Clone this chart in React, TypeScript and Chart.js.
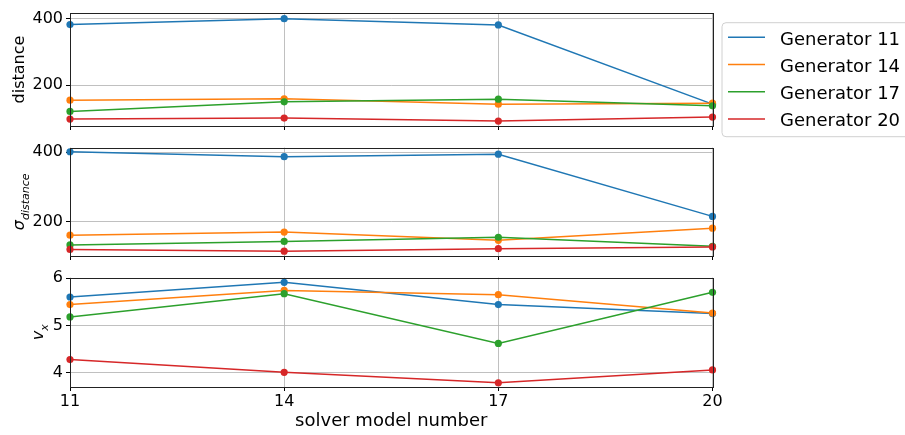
import React, { useEffect, useRef } from 'react';
import { Chart, registerables } from 'chart.js';

Chart.register(...registerables);

// ---------- data ----------
const categories = ['11', '14', '17', '20'];
const seriesNames = ['Generator 11', 'Generator 14', 'Generator 17', 'Generator 20'];

const distanceG11 = [383, 401, 382, 143];
const distanceG14 = [155, 159, 143, 146];
const distanceG17 = [121, 150, 158, 138];
const distanceG20 = [98, 101, 92, 104];

const sigmaG11 = [401, 387, 394, 215];
const sigmaG14 = [161, 170, 146, 181];
const sigmaG17 = [133, 143, 155, 129];
const sigmaG20 = [120, 115, 122, 127];

const vxG11 = [5.6, 5.91, 5.44, 5.25];
const vxG14 = [5.44, 5.74, 5.65, 5.26];
const vxG17 = [5.18, 5.67, 4.62, 5.7];
const vxG20 = [4.28, 4.01, 3.79, 4.06];

const distanceTicks = [200, 400];
const sigmaTicks = [200, 400];
const vxTicks = [4, 5, 6];

const xTitle = 'solver model number';

// ---------- style ----------
const colors = ['#1f77b4', '#ff7f0e', '#2ca02c', '#d62728'];
const FONT = '"DejaVu Sans", "Liberation Sans", sans-serif';
const GRID = '#b0b0b0';

type Panel = {
  top: number;
  height: number;
  padTop: number;
  xAxisH: number;
  min: number;
  max: number;
  ticks: number[];
  series: number[][];
  showX: boolean;
  title: 'distance' | 'sigma' | 'vx';
  legend: boolean;
};

const panels: Panel[] = [
  { top: 0, height: 140, padTop: 13, xAxisH: 14, min: 77, max: 418, ticks: distanceTicks,
    series: [distanceG11, distanceG14, distanceG17, distanceG20], showX: false, title: 'distance', legend: true },
  { top: 135, height: 135, padTop: 10, xAxisH: 14, min: 101, max: 413, ticks: sigmaTicks,
    series: [sigmaG11, sigmaG14, sigmaG17, sigmaG20], showX: false, title: 'sigma', legend: false },
  { top: 265, height: 170, padTop: 10, xAxisH: 48, min: 3.7, max: 6.01, ticks: vxTicks,
    series: [vxG11, vxG14, vxG17, vxG20], showX: true, title: 'vx', legend: false },
];

const framePlugin = {
  id: 'frame',
  afterDatasetsDraw(chart: any) {
    const { ctx, chartArea: a } = chart;
    ctx.save();
    ctx.strokeStyle = '#222';
    ctx.lineWidth = 1;
    ctx.strokeRect(Math.round(a.left) + 0.5, Math.round(a.top) + 0.5, Math.round(a.right - a.left), Math.round(a.bottom - a.top));
    ctx.restore();
  },
};

function mathTitlePlugin(kind: 'sigma' | 'vx') {
  return {
    id: 'mathTitle',
    afterDraw(chart: any) {
      const { ctx, chartArea: a } = chart;
      const main = kind === 'sigma' ? 'σ' : 'v';
      const sub = kind === 'sigma' ? 'distance' : 'x';
      const baseX = kind === 'sigma' ? 23.5 : 43;
      const shift = kind === 'sigma' ? 5.5 : 5;
      const cy = (a.top + a.bottom) / 2;
      ctx.save();
      ctx.fillStyle = '#000';
      ctx.textBaseline = 'alphabetic';
      ctx.textAlign = 'left';
      ctx.font = `italic 16px ${FONT}`;
      const wMain = ctx.measureText(main).width;
      ctx.font = `italic 11px ${FONT}`;
      const wSub = ctx.measureText(sub).width;
      const total = wMain + wSub;
      ctx.translate(baseX, cy);
      ctx.rotate(-Math.PI / 2);
      ctx.font = `italic 16px ${FONT}`;
      ctx.fillText(main, -total / 2, 0);
      ctx.font = `italic 11px ${FONT}`;
      ctx.fillText(sub, -total / 2 + wMain, shift);
      ctx.restore();
    },
  };
}

const legendPlugin = {
  id: 'customLegend',
  afterDraw(chart: any) {
    const { ctx } = chart;
    ctx.save();
    const x = 722, y = 22.7, w = 200, h = 114, r = 4;
    ctx.beginPath();
    ctx.moveTo(x + r, y);
    ctx.lineTo(x + w, y);
    ctx.lineTo(x + w, y + h);
    ctx.lineTo(x + r, y + h);
    ctx.arcTo(x, y + h, x, y + h - r, r);
    ctx.lineTo(x, y + r);
    ctx.arcTo(x, y, x + r, y, r);
    ctx.closePath();
    ctx.fillStyle = 'rgba(255,255,255,0.8)';
    ctx.fill();
    ctx.strokeStyle = '#d0d0d0';
    ctx.lineWidth = 1;
    ctx.stroke();
    const lineYs = [37.3, 64.5, 91.7, 119];
    seriesNames.forEach((name, i) => {
      ctx.strokeStyle = colors[i];
      ctx.lineWidth = 1.5;
      ctx.beginPath();
      ctx.moveTo(728, lineYs[i]);
      ctx.lineTo(765, lineYs[i]);
      ctx.stroke();
      ctx.fillStyle = '#000';
      ctx.font = `18px ${FONT}`;
      ctx.textBaseline = 'alphabetic';
      ctx.textAlign = 'left';
      ctx.fillText(name, 780, lineYs[i] + 7.3);
    });
    ctx.restore();
  },
};

function buildConfig(p: Panel): any {
  const plugins: any[] = [framePlugin];
  if (p.title !== 'distance') plugins.push(mathTitlePlugin(p.title));
  if (p.legend) plugins.push(legendPlugin);
  return {
    type: 'line',
    data: {
      labels: categories,
      datasets: p.series.map((d, i) => ({
        label: seriesNames[i],
        data: d,
        borderColor: colors[i],
        backgroundColor: colors[i],
        pointBackgroundColor: colors[i],
        pointBorderColor: colors[i],
        pointBorderWidth: 0,
        pointRadius: 3.6,
        borderWidth: 1.5,
        tension: 0,
        fill: false,
        clip: false,
        order: 3 - i,
      })),
    },
    options: {
      animation: false,
      responsive: false,
      maintainAspectRatio: false,
      devicePixelRatio: 1,
      events: [],
      layout: { padding: { top: p.padTop, left: 0, right: 192.5, bottom: 0 } },
      plugins: { legend: { display: false }, tooltip: { enabled: false } },
      scales: {
        x: {
          type: 'category',
          offset: false,
          border: { display: false },
          grid: { color: GRID, lineWidth: 0.8, drawTicks: true, tickLength: 4, tickColor: '#000', tickWidth: 1 },
          ticks: { display: p.showX, color: '#000', font: { family: FONT, size: 16 }, padding: 1, maxRotation: 0, autoSkip: false },
          title: p.showX
            ? { display: true, text: xTitle, color: '#000', font: { family: FONT, size: 18 }, padding: { top: 0, bottom: 3 } }
            : { display: false },
          afterFit: (s: any) => { s.height = p.xAxisH; },
        },
        y: {
          type: 'linear',
          min: p.min,
          max: p.max,
          border: { display: false },
          grid: { color: GRID, lineWidth: 0.8, drawTicks: true, tickLength: 4, tickColor: '#000', tickWidth: 1 },
          ticks: { color: '#000', font: { family: FONT, size: 16 }, padding: 3 },
          afterBuildTicks: (s: any) => { s.ticks = p.ticks.map((v) => ({ value: v })); },
          title: p.title === 'distance'
            ? { display: true, text: 'distance', color: '#000', font: { family: FONT, size: 16 }, padding: { top: 10.4, bottom: 0 } }
            : { display: false },
          afterFit: (s: any) => { s.width = 70; },
        },
      },
    },
    plugins,
  };
}

function PanelChart({ p }: { p: Panel }) {
  const ref = useRef<HTMLCanvasElement | null>(null);
  useEffect(() => {
    if (!ref.current) return;
    const chart = new Chart(ref.current, buildConfig(p));
    return () => chart.destroy();
  }, [p]);
  return (
    <canvas
      ref={ref}
      width={905}
      height={p.height}
      style={{ position: 'absolute', left: 0, top: p.top, width: 905, height: p.height }}
    />
  );
}

export default function App() {
  return (
    <div style={{ position: 'absolute', left: 0, top: 0, width: 905, height: 435, background: '#fff' }}>
      {panels.map((p, i) => (
        <PanelChart key={i} p={p} />
      ))}
    </div>
  );
}
